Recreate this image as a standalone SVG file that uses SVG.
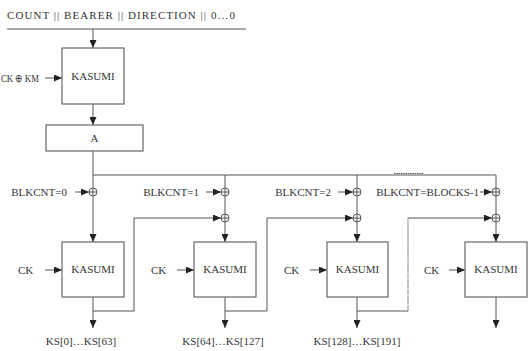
<svg xmlns="http://www.w3.org/2000/svg" width="529" height="351" viewBox="0 0 529 351">
<defs>
<marker id="ah" markerWidth="8" markerHeight="7" refX="8" refY="3.5" orient="auto" markerUnits="userSpaceOnUse">
<path d="M0,0 L8,3.5 L0,7 z" fill="#222"/>
</marker>
<g id="xor"><circle r="4" fill="#fff" stroke="#555" stroke-width="1"/><path d="M-4,0 H4 M0,-4 V4" stroke="#555" stroke-width="1"/></g>
</defs>
<style>
text{font-family:"Liberation Serif","Times New Roman",serif;font-size:11px;fill:#333}
.c{text-anchor:middle}
.e{text-anchor:end}
.box{fill:#fff;stroke:#666;stroke-width:1.2}
.ln{fill:none;stroke:#555;stroke-width:1}
.ar{fill:none;stroke:#555;stroke-width:1;marker-end:url(#ah)}
.dot{fill:none;stroke:#555;stroke-width:1;stroke-dasharray:1.5 0.8}
</style>
<rect width="529" height="351" fill="#fff"/>

<g id="title">
<text x="7" y="19" font-size="12" textLength="228" lengthAdjust="spacing">COUNT || BEARER || DIRECTION || 0…0</text>
<line class="ln" x1="7" y1="29" x2="246" y2="29"/>
</g>

<g id="connectors">
<line class="ar" x1="93" y1="29" x2="93" y2="48"/>
<line class="ar" x1="45" y1="78" x2="62" y2="78"/>
<line class="ar" x1="93" y1="104" x2="93" y2="125"/>
<line class="ar" x1="93" y1="151" x2="93" y2="242"/>
<line class="ln" x1="93" y1="175" x2="496" y2="175"/>
<line class="dot" x1="394" y1="173.5" x2="424" y2="173.5"/>
<line class="ar" x1="225" y1="175" x2="225" y2="242"/>
<line class="ar" x1="357" y1="175" x2="357" y2="242"/>
<line class="ar" x1="496" y1="175" x2="496" y2="242"/>
<line class="ar" x1="75" y1="192" x2="89" y2="192"/>
<line class="ar" x1="206" y1="192" x2="221" y2="192"/>
<line class="ar" x1="338" y1="192" x2="353" y2="192"/>
<line class="ar" x1="480" y1="192" x2="492" y2="192"/>
<polyline class="ar" points="93,311 134,311 134,218 221,218"/>
<polyline class="ar" points="225,311 267,311 267,218 353,218"/>
<polyline class="ln" points="357,311 408,311"/>
<line class="dot" x1="408" y1="311" x2="408" y2="218"/>
<polyline class="ar" points="408,218 492,218"/>
<line class="ar" x1="45" y1="270" x2="62" y2="270"/>
<line class="ar" x1="177" y1="270" x2="194" y2="270"/>
<line class="ar" x1="310" y1="270" x2="327" y2="270"/>
<line class="ar" x1="449" y1="270" x2="465" y2="270"/>
<line class="ar" x1="93" y1="297" x2="93" y2="328"/>
<line class="ar" x1="225" y1="297" x2="225" y2="328"/>
<line class="ar" x1="357" y1="297" x2="357" y2="328"/>
<line class="ar" x1="496" y1="297" x2="496" y2="328"/>
<use href="#xor" x="93" y="192"/>
<use href="#xor" x="225" y="192"/>
<use href="#xor" x="357" y="192"/>
<use href="#xor" x="496" y="192"/>
<use href="#xor" x="225" y="218"/>
<use href="#xor" x="357" y="218"/>
<use href="#xor" x="496" y="218"/>
</g>

<g id="kasumi0">
<rect class="box" x="62" y="48" width="62" height="56"/>
<text class="c" x="93" y="80">KASUMI</text>
</g>
<g id="key-in"><text x="1" y="82" font-size="9.5" textLength="38" lengthAdjust="spacingAndGlyphs">CK ⊕ KM</text></g>
<g id="a-box">
<rect class="box" x="46" y="125" width="97" height="26"/>
<text class="c" x="94.5" y="142">A</text>
</g>

<g id="blk-labels">
<text class="e" x="67" y="196">BLKCNT=0</text>
<text class="e" x="199" y="196">BLKCNT=1</text>
<text class="e" x="331" y="196">BLKCNT=2</text>
<text class="e" x="479" y="196">BLKCNT=BLOCKS-1</text>
</g>

<g id="kasumi1">
<rect class="box" x="62" y="242" width="62" height="55"/>
<text class="c" x="93" y="273">KASUMI</text>
<text x="18" y="274">CK</text>
<text class="c" x="81" y="345" font-size="10.5">KS[0]…KS[63]</text>
</g>
<g id="kasumi2">
<rect class="box" x="194" y="242" width="62" height="55"/>
<text class="c" x="225" y="273">KASUMI</text>
<text x="151" y="274">CK</text>
<text class="c" x="223" y="345" font-size="10.5">KS[64]…KS[127]</text>
</g>
<g id="kasumi3">
<rect class="box" x="327" y="242" width="61" height="55"/>
<text class="c" x="357.5" y="273">KASUMI</text>
<text x="284" y="274">CK</text>
<text class="c" x="357" y="345" font-size="10.5">KS[128]…KS[191]</text>
</g>
<g id="kasumi4">
<rect class="box" x="465" y="242" width="62" height="55"/>
<text class="c" x="496" y="273">KASUMI</text>
<text x="424" y="274">CK</text>
</g>
</svg>
